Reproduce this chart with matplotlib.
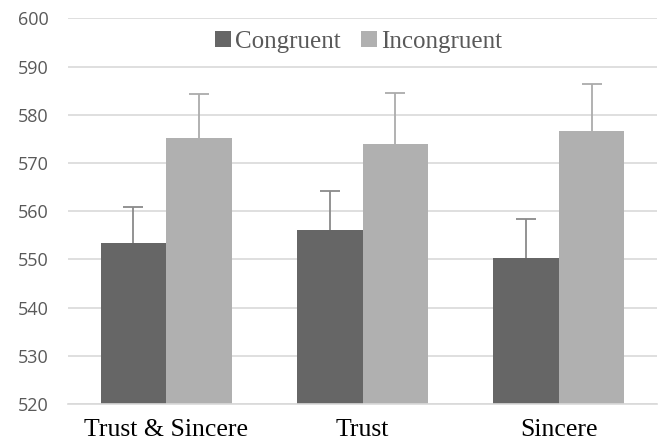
import numpy as np
import matplotlib
matplotlib.use("Agg")
import matplotlib.pyplot as plt

categories = ["Trust & Sincere", "Trust", "Sincere"]
series_names = ["Congruent", "Incongruent"]
congruent = [553.3, 556.0, 550.3]
incongruent = [575.2, 573.9, 576.6]
congruent_err = [7.6, 8.2, 8.1]
incongruent_err = [9.0, 10.6, 9.8]
yticks = np.arange(520, 601, 10)

bar_colors = ["#666666", "#b0b0b0"]
err_colors = ["#8a8a8a", "#ababab"]

fig = plt.figure(figsize=(6.65, 4.47), dpi=100)
ax = fig.add_axes([0.1023, 0.0962, 0.8857, 0.8628])

x = np.arange(len(categories))
w = 1 / 3

means = [congruent, incongruent]
errs = [congruent_err, incongruent_err]
for i, (m, e) in enumerate(zip(means, errs)):
	pos = x + (i - 0.5) * w
	ax.bar(pos, m, width=w, color=bar_colors[i], label=series_names[i], zorder=2)
	_, caps, _ = ax.errorbar(pos, m, yerr=[np.zeros(len(m)), e], fmt="none",
		ecolor=err_colors[i], elinewidth=1.3, capsize=7.2, capthick=1.3, zorder=3)
	# hide the lower caps, only the upper half is drawn
	for c in caps:
		if np.allclose(c.get_ydata(), m):
			c.set_visible(False)

ax.set_xlim(-0.5, 2.5)
ax.set_ylim(520, 600)
ax.set_yticks(yticks)
ax.set_yticklabels([str(v) for v in yticks], fontfamily="Open Sans", fontsize=13, color="#595959")
ax.set_xticks(x)
ax.set_xticklabels(categories, fontfamily="Liberation Serif", fontsize=18.5, color="black")
ax.tick_params(axis="y", length=0, pad=14)
ax.tick_params(axis="x", length=0, pad=11)

ax.grid(axis="y", color="#d9d9d9", linewidth=1.2, zorder=0)
ax.set_axisbelow(True)
for s in ["top", "right", "left"]:
	ax.spines[s].set_visible(False)
ax.spines["bottom"].set_color("#d9d9d9")
ax.spines["bottom"].set_linewidth(1.2)

leg = ax.legend(loc="center", bbox_to_anchor=(0.493, 0.939), ncol=2, frameon=False,
	prop={"family": "Liberation Serif", "size": 18}, handlelength=0.65, handleheight=0.65,
	handletextpad=0.15, columnspacing=0.8, borderpad=0)
for t in leg.get_texts():
	t.set_color("#595959")

fig.savefig("out.png", dpi=100)
